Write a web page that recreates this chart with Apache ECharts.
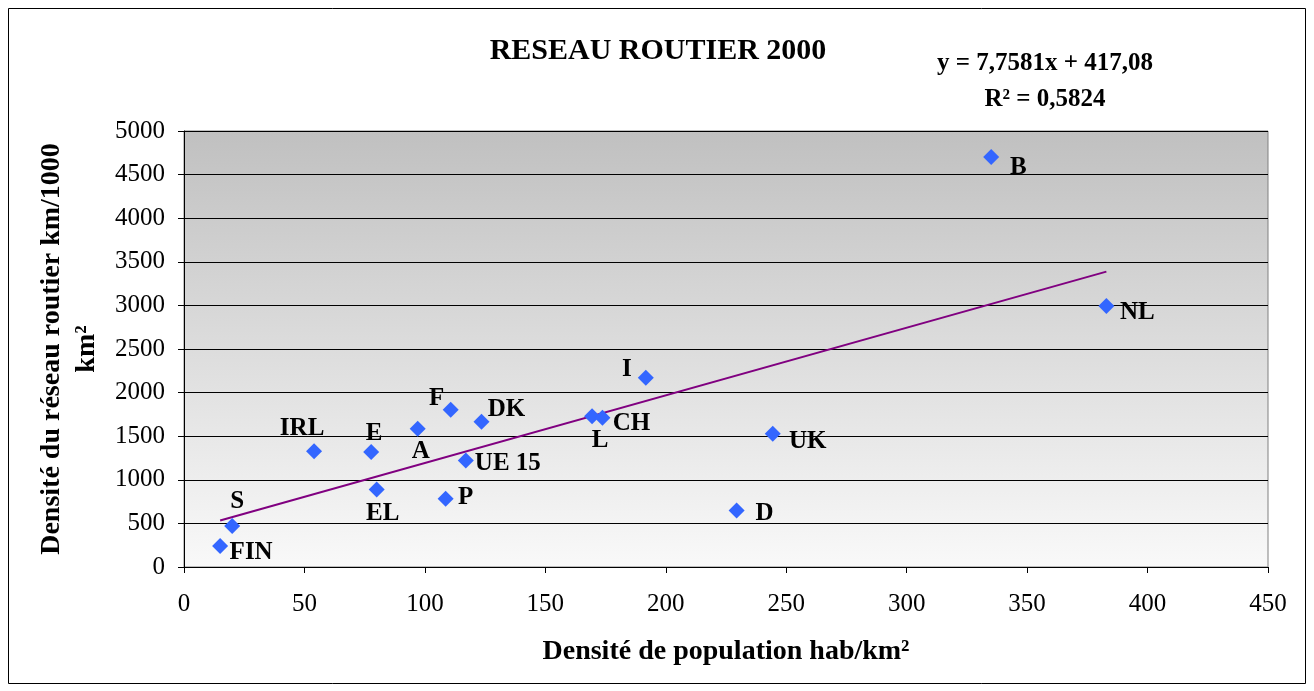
<!DOCTYPE html>
<html>
<head>
<meta charset="utf-8">
<script src="https://cdn.jsdelivr.net/npm/echarts@6/dist/echarts.min.js"></script>
<style>
  html, body { margin: 0; padding: 0; background: #fff; }
  #chart { width: 1314px; height: 691px; }
</style>
</head>
<body>
<div id="chart"></div>
<script>
// pays (codes)
const countries = ['FIN', 'S', 'IRL', 'E', 'EL', 'A', 'F', 'P', 'UE 15', 'DK', 'L', 'CH', 'I', 'D', 'UK', 'B', 'NL']
// densité de population hab/km²
const popDensity = [15, 20, 54, 77.7, 80, 97, 110.7, 108.6, 117, 123.5, 169.4, 173.7, 191.7, 229.4, 244.4, 335.1, 382.9]
// densité du réseau routier km/1000 km²
const roadDensity = [240, 470, 1326, 1320, 890, 1586, 1804, 783, 1222, 1666, 1730, 1712, 2171, 649, 1529, 4701, 2992]
// courbe de tendance linéaire
const trendSlope = 7.7581
const trendIntercept = 417.08
const trendRange = [15, 382.9]

// où poser chaque étiquette par rapport au point
const labelOffsets = {
  'FIN': [31, 6], 'S': [5, -24], 'IRL': [-12, -23], 'E': [3, -18], 'EL': [6, 24],
  'A': [3, 23], 'F': [-14, -11], 'P': [20, -1], 'UE 15': [42, 3], 'DK': [25, -12],
  'L': [8, 24], 'CH': [29, 6], 'I': [-19, -8], 'D': [28, 3], 'UK': [35, 8],
  'B': [27, 10], 'NL': [31, 6]
}

const serif = '"Liberation Serif", "DejaVu Serif", serif'

let points = countries.map((name, i) => ({
  name: name,
  value: [popDensity[i], roadDensity[i]],
  label: { offset: labelOffsets[name] }
}))
let trendData = trendRange.map(x => [x, trendSlope * x + trendIntercept])

let chart = echarts.init(document.getElementById('chart'))
let option = {
  animation: false,
  backgroundColor: '#fff',
  grid: {
    left: 184,
    right: 46,
    top: 131,
    bottom: 124,
    outerBoundsMode: 'none',
    containLabel: false,
    show: true,
    borderColor: '#808080',
    borderWidth: 1,
    backgroundColor: {
      type: 'linear', x: 0, y: 0, x2: 0, y2: 1,
      colorStops: [
        { offset: 0, color: '#c0c0c0' },
        { offset: 1, color: '#f9f9f9' }
      ]
    }
  },
  graphic: [
    {
      type: 'rect',
      shape: { x: 8.5, y: 8.5, width: 1297, height: 675 },
      style: { fill: null, stroke: '#000', lineWidth: 1 },
      silent: true
    },
    {
      type: 'text', x: 658, y: 51,
      style: {
        text: 'RESEAU ROUTIER 2000', font: 'bold 30px ' + serif,
        fill: '#000', align: 'center', verticalAlign: 'middle'
      }
    },
    {
      type: 'text', x: 1045, y: 64,
      style: {
        text: 'y = 7,7581x + 417,08', font: 'bold 25px ' + serif,
        fill: '#000', align: 'center', verticalAlign: 'middle'
      }
    },
    {
      type: 'text', x: 1045, y: 100,
      style: {
        text: 'R² = 0,5824', font: 'bold 25px ' + serif,
        fill: '#000', align: 'center', verticalAlign: 'middle'
      }
    }
  ],
  xAxis: {
    type: 'value',
    min: 0,
    max: 450,
    interval: 50,
    name: 'Densité de population hab/km²',
    nameLocation: 'middle',
    nameGap: 71,
    nameTextStyle: { fontFamily: serif, fontWeight: 'bold', fontSize: 28, color: '#000' },
    axisLine: { show: true, lineStyle: { color: '#000' } },
    axisTick: { show: true, length: 6, lineStyle: { color: '#000' } },
    axisLabel: { margin: 25, fontFamily: serif, fontSize: 25, color: '#000', formatter: v => String(v) },
    splitLine: { show: false }
  },
  yAxis: {
    type: 'value',
    min: 0,
    max: 5000,
    interval: 500,
    name: 'Densité du réseau routier km/1000\nkm²',
    nameLocation: 'middle',
    nameGap: 72,
    nameTextStyle: {
      fontFamily: serif, fontWeight: 'bold', fontSize: 28, color: '#000',
      lineHeight: 35, align: 'center'
    },
    axisLine: { show: true, lineStyle: { color: '#000' } },
    axisTick: { show: true, length: 6, lineStyle: { color: '#000' } },
    axisLabel: { margin: 19, fontFamily: serif, fontSize: 25, color: '#000', formatter: v => String(v) },
    splitLine: { show: true, lineStyle: { color: '#000', width: 1 } }
  },
  series: [
    {
      type: 'line',
      data: trendData,
      symbol: 'none',
      lineStyle: { color: '#800080', width: 2 },
      z: 2
    },
    {
      type: 'scatter',
      data: points,
      symbol: 'diamond',
      symbolSize: 16,
      itemStyle: { color: '#3366ff', opacity: 1 },
      label: {
        show: true,
        position: 'inside',
        formatter: '{b}',
        fontFamily: serif,
        fontWeight: 'bold',
        fontSize: 25,
        color: '#000'
      },
      z: 3
    }
  ]
}
chart.setOption(option)
</script>
</body>
</html>
